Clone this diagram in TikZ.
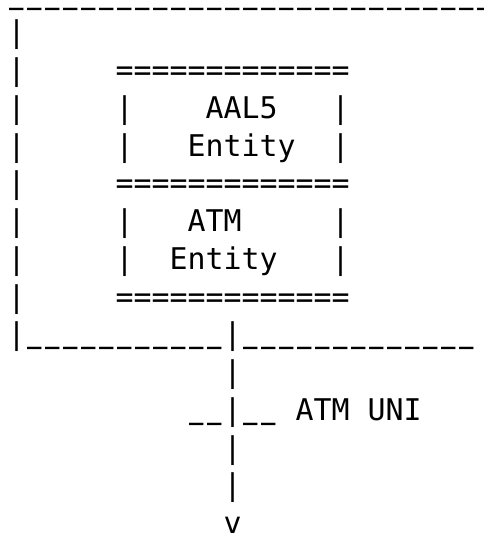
\documentclass[tikz,border=0pt]{standalone}
\usepackage{fontspec}
\newfontfamily\asciimono{DejaVu Sans Mono}
\tikzset{
  ascii/.style={inner sep=0pt, outer sep=0pt, anchor=base west,
    font=\asciimono\fontsize{29.9pt}{37.75pt}\selectfont},
}
% one underscore cell, 18pt wide, as the reference font draws it
\newcommand\us{\makebox[18pt]{\raisebox{9pt}{\scalebox{0.8}[2]{\_}}}}
\newcommand\usrow[1]{\foreach \k in {1,...,#1}{\us}}
% #1 name, #2 column, #3 row, #4 text
\newcommand\asciiat[4]{\node[ascii] (#1) at ({7.7+18*#2},{537-42.9-(#3-2)*37.75}) {#4};}
\begin{document}
\begin{tikzpicture}[x=1pt,y=1pt]
\useasboundingbox (0,0) rectangle (483,537);
\clip (0,0) rectangle (483,537);
% row 1
\asciiat{top}{0}{1}{\usrow{28}}
% left wall
\asciiat{l2}{0}{2}{|}
\asciiat{l3}{0}{3}{|}
\asciiat{l4}{0}{4}{|}
\asciiat{l5}{0}{5}{|}
\asciiat{l6}{0}{6}{|}
\asciiat{l7}{0}{7}{|}
\asciiat{l8}{0}{8}{|}
\asciiat{l9}{0}{9}{|}
\asciiat{l10}{0}{10}{|}
% AAL5 entity box
\asciiat{eqA}{6}{3}{=============}
\asciiat{aL4}{6}{4}{|}
\asciiat{aal}{11}{4}{AAL5}
\asciiat{aR4}{18}{4}{|}
\asciiat{aL5}{6}{5}{|}
\asciiat{aent}{10}{5}{Entity}
\asciiat{aR5}{18}{5}{|}
\asciiat{eqB}{6}{6}{=============}
% ATM entity box
\asciiat{bL7}{6}{7}{|}
\asciiat{atm}{10}{7}{ATM}
\asciiat{bR7}{18}{7}{|}
\asciiat{bL8}{6}{8}{|}
\asciiat{bent}{9}{8}{Entity}
\asciiat{bR8}{18}{8}{|}
\asciiat{eqC}{6}{9}{=============}
% bottom line
\asciiat{botL}{1}{10}{\usrow{11}}
\asciiat{stem10}{12}{10}{|}
\asciiat{botR}{13}{10}{\usrow{13}}
% link down
\asciiat{stem11}{12}{11}{|}
\asciiat{tickL}{10}{12}{\usrow{2}}
\asciiat{stem12}{12}{12}{|}
\asciiat{tickR}{13}{12}{\usrow{2}}
\asciiat{uni}{16}{12}{ATM UNI}
\asciiat{stem13}{12}{13}{|}
\asciiat{stem14}{12}{14}{|}
\asciiat{arrow}{12}{15}{v}
\end{tikzpicture}
\end{document}
